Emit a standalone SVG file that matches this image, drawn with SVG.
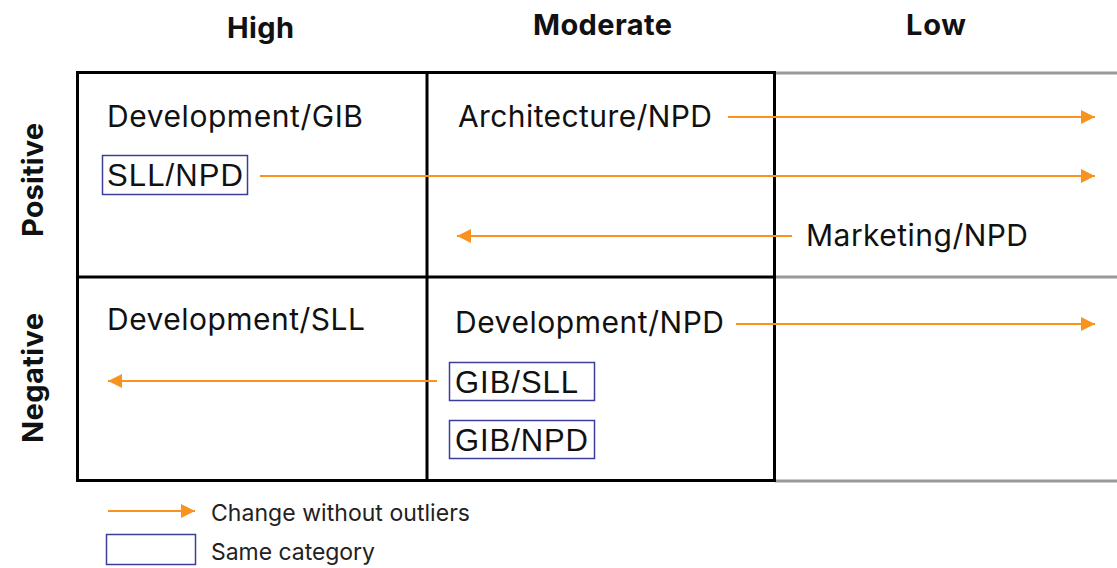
<svg xmlns="http://www.w3.org/2000/svg" width="1117" height="568" viewBox="0 0 1117 568">
<style>
.hdr{font-family:Inter,Roboto,"Liberation Sans",sans-serif;font-weight:bold;font-size:29px;fill:#111}
.lbl{font-family:Inter,Roboto,"Liberation Sans",sans-serif;font-size:30px;fill:#111}
.box{font-family:"Liberation Sans",Arial,sans-serif;font-size:31px;fill:#111}
.leg{font-family:Inter,Roboto,"Liberation Sans",sans-serif;font-size:23px;fill:#222}
.cat{fill:none;stroke:#3c3c9a;stroke-width:1.5}
.arr{stroke:#f7931e;stroke-width:1.8;fill:none}
.grid{stroke:#000;stroke-width:3;fill:none}
.gray{stroke:#999;stroke-width:3;fill:none}
</style>
<defs>
<marker id="ahb" viewBox="0 0 10 10" refX="10" refY="5" markerWidth="14" markerHeight="14" markerUnits="userSpaceOnUse" orient="auto">
<path d="M0,0L10,5L0,10z" fill="#f7931e"/>
</marker>
</defs>
<rect width="1117" height="568" fill="#fff"/>
<g id="headers">
<text class="hdr" x="227" y="38" textLength="67">High</text>
<text class="hdr" x="533" y="35" textLength="139">Moderate</text>
<text class="hdr" x="906" y="35" textLength="60">Low</text>
<text class="hdr" transform="translate(43,237) rotate(-90)" textLength="114">Positive</text>
<text class="hdr" transform="translate(43,443) rotate(-90)" textLength="130">Negative</text>
</g>
<g id="grid">
<line class="gray" x1="775" y1="73" x2="1117" y2="73"/>
<line class="gray" x1="775" y1="277" x2="1117" y2="277"/>
<line class="gray" x1="775" y1="481" x2="1117" y2="481"/>
<rect class="grid" x="77.5" y="72.5" width="697" height="408"/>
<line class="grid" x1="77" y1="277" x2="775" y2="277"/>
<line class="grid" x1="427" y1="72" x2="427" y2="481"/>
</g>
<g id="connectors">
<line class="arr" x1="728" y1="117" x2="1095" y2="117" marker-end="url(#ahb)"/>
<line class="arr" x1="260" y1="176" x2="1095" y2="176" marker-end="url(#ahb)"/>
<line class="arr" x1="792" y1="236" x2="457" y2="236" marker-end="url(#ahb)"/>
<line class="arr" x1="736" y1="324" x2="1095" y2="324" marker-end="url(#ahb)"/>
<line class="arr" x1="437" y1="381" x2="108" y2="381" marker-end="url(#ahb)"/>
</g>
<g id="n-dev-gib"><text class="lbl" x="107" y="127" textLength="256">Development/GIB</text></g>
<g id="n-arch-npd"><text class="lbl" x="458" y="127" textLength="254">Architecture/NPD</text></g>
<g id="n-sll-npd"><rect class="cat" x="102.5" y="155.5" width="145" height="39"/><text class="box" x="107" y="186" textLength="136">SLL/NPD</text></g>
<g id="n-mkt-npd"><text class="lbl" x="806" y="246" textLength="222">Marketing/NPD</text></g>
<g id="n-dev-sll"><text class="lbl" x="107" y="330" textLength="258">Development/SLL</text></g>
<g id="n-dev-npd"><text class="lbl" x="455" y="333" textLength="269">Development/NPD</text></g>
<g id="n-gib-sll"><rect class="cat" x="449.5" y="362.5" width="145" height="38"/><text class="box" x="455" y="393" textLength="123">GIB/SLL</text></g>
<g id="n-gib-npd"><rect class="cat" x="449.5" y="420.5" width="145" height="38"/><text class="box" x="455" y="451" textLength="133">GIB/NPD</text></g>
<g id="legend">
<line class="arr" x1="108" y1="511" x2="195" y2="511" marker-end="url(#ahb)"/>
<text class="leg" x="211" y="521" textLength="259">Change without outliers</text>
<rect class="cat" x="106.5" y="534.5" width="89" height="30"/>
<text class="leg" x="211" y="560" textLength="164">Same category</text>
</g>
</svg>
